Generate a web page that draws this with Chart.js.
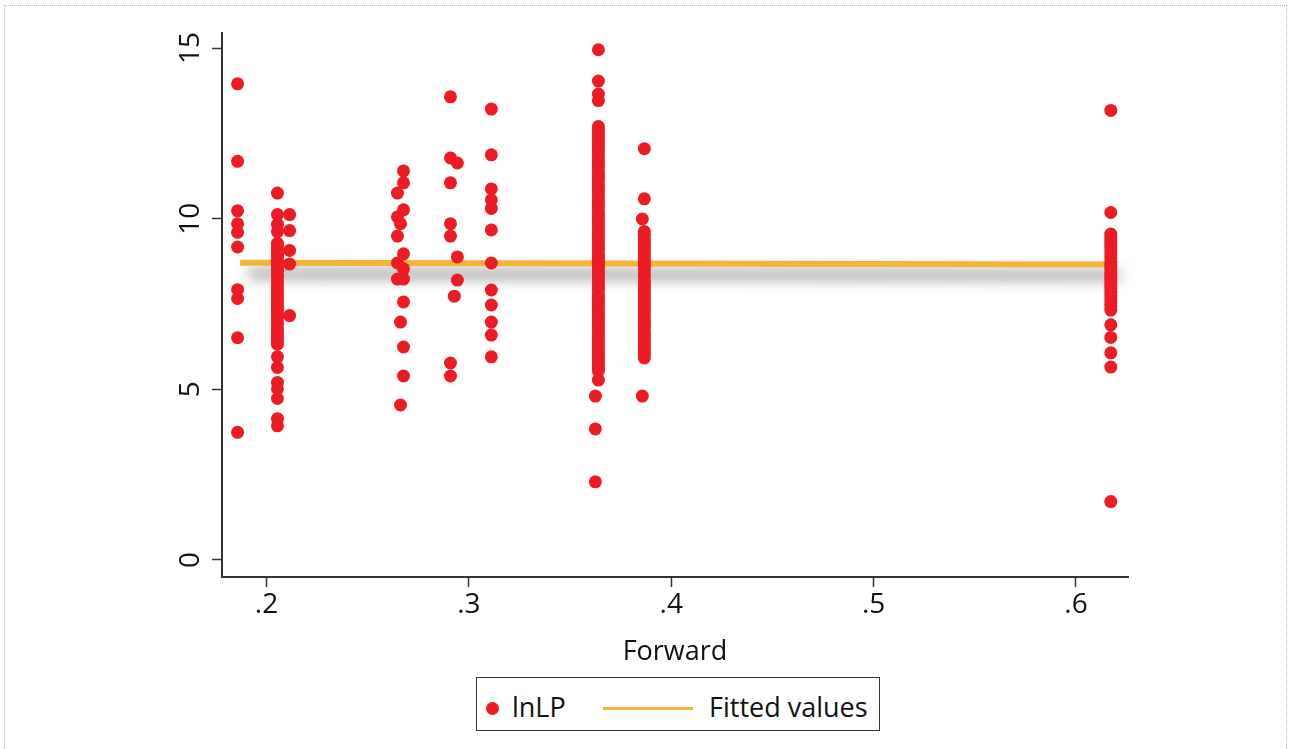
<html>
    <head>
        <title>lnLP vs Forward</title>
        <script src="https://cdn.jsdelivr.net/npm/chart.js@4.4.0/dist/chart.umd.min.js"></script>
        <style>
            body { margin: 0; background: #fff; overflow: hidden; font-family: 'Open Sans', sans-serif; }
            #frame { position: absolute; left: 4px; top: 5px; width: 1283px; height: 800px; border: 1px dotted #b5b5b5; box-sizing: border-box; }
            #chart-box { position: absolute; left: 0; top: 0; width: 1290px; height: 749px; }
            #legend { position: absolute; left: 476px; top: 677px; width: 404px; height: 54px; border: 1.5px solid #333; box-sizing: border-box; background: #fff; font-size: 27px; color: #111; }
            #legend span { position: absolute; }
            .dot { width: 13px; height: 13px; border-radius: 50%; background: #ED1C24; left: 9px; top: 24px; }
            .fit { width: 90px; height: 3px; background: #F2B53A; left: 126px; top: 29px; }
        </style>
    </head>

    <body>
        <div id="frame"></div>
        <div id="chart-box">
            <canvas id="scatter-chart" width="1290" height="749"></canvas>
        </div>

        <!-- Legend -->
        <div id="legend">
            <span class="dot"></span>
            <span style="left: 35px; top: 11px; line-height: 36px;">lnLP</span>
            <span class="fit"></span>
            <span style="left: 232px; top: 11px; line-height: 36px;">Fitted values</span>
        </div>

        <script>
            // Forward value of each column of points
            const forwardCols = [0.1857, 0.2054, 0.2114, 0.2647, 0.2662, 0.2677, 0.2909, 0.2928, 0.2943, 0.3111, 0.3625, 0.3640, 0.3857, 0.3867, 0.6172];

            // lnLP values in each column
            const lnlpA = [13.95, 11.68, 10.23, 9.85, 9.60, 9.17, 7.92, 7.66, 6.51, 3.74];
            const lnlpB = [10.75, 10.12, 9.83, 9.62, 9.28, 9.18, 9.09, 8.98, 8.89, 8.78, 8.69, 8.58, 8.49, 8.38, 8.29, 8.18, 8.09, 7.98, 7.89, 7.78, 7.69, 7.58, 7.49, 7.38, 7.29, 7.18, 7.09, 6.98, 6.89, 6.78, 6.69, 6.58, 6.49, 6.40, 6.32, 5.95, 5.64, 5.20, 5.01, 4.73, 4.14, 3.93];
            const lnlpC = [10.12, 9.65, 9.07, 8.67, 7.16];
            const lnlpD1 = [10.75, 10.05, 9.49, 8.70, 8.23];
            const lnlpD2 = [9.85, 6.97, 4.54];
            const lnlpD3 = [11.40, 11.05, 10.26, 8.97, 8.53, 8.23, 7.56, 6.24, 5.39];
            const lnlpE1 = [13.57, 11.78, 11.05, 9.85, 9.49, 5.77, 5.39];
            const lnlpE2 = [7.73];
            const lnlpE3 = [11.63, 8.88, 8.20];
            const lnlpF = [13.21, 11.87, 10.87, 10.55, 10.30, 9.67, 8.70, 7.91, 7.47, 6.97, 6.59, 5.95];
            const lnlpG1 = [4.80, 3.84, 2.29];
            const lnlpG2 = [14.95, 14.03, 13.65, 13.46, 12.70, 12.61, 12.50, 12.40, 12.31, 12.20, 12.11, 12.00, 11.90, 11.81, 11.70, 11.60, 11.51, 11.40, 11.30, 11.21, 11.10, 11.00, 10.91, 10.80, 10.70, 10.61, 10.50, 10.40, 10.31, 10.20, 10.10, 10.01, 9.90, 9.80, 9.71, 9.60, 9.50, 9.41, 9.30, 9.20, 9.11, 9.00, 8.90, 8.81, 8.70, 8.60, 8.51, 8.40, 8.30, 8.21, 8.10, 8.00, 7.91, 7.80, 7.70, 7.61, 7.50, 7.40, 7.31, 7.20, 7.10, 7.01, 6.90, 6.80, 6.71, 6.60, 6.50, 6.41, 6.30, 6.20, 6.11, 6.00, 5.90, 5.81, 5.70, 5.62, 5.54, 5.27];
            const lnlpH1 = [9.99, 4.80];
            const lnlpH2 = [12.05, 10.58, 9.62, 9.52, 9.41, 9.31, 9.22, 9.11, 9.01, 8.92, 8.81, 8.71, 8.62, 8.51, 8.41, 8.32, 8.21, 8.11, 8.02, 7.91, 7.81, 7.72, 7.61, 7.51, 7.42, 7.31, 7.21, 7.12, 7.01, 6.91, 6.82, 6.71, 6.61, 6.52, 6.41, 6.31, 6.22, 6.11, 6.02, 5.92];
            const lnlpI = [13.17, 10.18, 9.55, 9.45, 9.34, 9.24, 9.15, 9.04, 8.94, 8.85, 8.74, 8.64, 8.55, 8.44, 8.34, 8.25, 8.14, 8.04, 7.95, 7.84, 7.74, 7.65, 7.54, 7.44, 7.32, 6.89, 6.52, 6.07, 5.65, 1.71];

            const lnlpCols = [lnlpA, lnlpB, lnlpC, lnlpD1, lnlpD2, lnlpD3, lnlpE1, lnlpE2, lnlpE3, lnlpF, lnlpG1, lnlpG2, lnlpH1, lnlpH2, lnlpI];

            // fitted line end points
            const fitX = [0.187, 0.6172];
            const fitY = [8.71, 8.66];

            const xTicks = [0.2, 0.3, 0.4, 0.5, 0.6];
            const yTicks = [0, 5, 10, 15];

            const points = [];
            forwardCols.forEach((fx, i) => {
                lnlpCols[i].forEach(v => points.push({ x: fx, y: v }));
            });
            const fitted = fitX.map((fx, i) => ({ x: fx, y: fitY[i] }));

            // soft grey drop shadow under the fitted line
            const shadowPlugin = {
                id: 'lineShadow',
                beforeDatasetDraw(chart, args) {
                    if (args.index !== 1) return;
                    const ctx = chart.ctx;
                    ctx.save();
                    ctx.shadowColor = 'rgba(0,0,0,0.6)';
                    ctx.shadowBlur = 14;
                    ctx.shadowOffsetX = 9;
                    ctx.shadowOffsetY = 11;
                },
                afterDatasetDraw(chart, args) {
                    if (args.index !== 1) return;
                    chart.ctx.restore();
                }
            };

            const tickFont = { family: "'Open Sans', sans-serif", size: 28 };
            const titleFont = { family: "'Open Sans', sans-serif", size: 27 };

            new Chart(document.getElementById('scatter-chart'), {
                type: 'scatter',
                data: {
                    datasets: [{
                        label: 'lnLP',
                        data: points,
                        backgroundColor: '#ED1C24',
                        borderWidth: 0,
                        pointRadius: 6.5,
                        pointHoverRadius: 6.5,
                        order: 0
                    }, {
                        type: 'line',
                        label: 'Fitted values',
                        data: fitted,
                        borderColor: '#F2B53A',
                        borderWidth: 6,
                        borderCapStyle: 'butt',
                        pointRadius: 0,
                        fill: false,
                        clip: 25,
                        order: 1
                    }]
                },
                options: {
                    responsive: false,
                    animation: false,
                    layout: { padding: { left: 0, top: 33, right: 162, bottom: 72 } },
                    plugins: {
                        legend: { display: false },
                        tooltip: { enabled: false }
                    },
                    scales: {
                        x: {
                            type: 'linear',
                            min: 0.178,
                            max: 0.6257,
                            afterFit: s => { s.height = 100; },
                            afterBuildTicks: s => { s.ticks = xTicks.map(v => ({ value: v })); },
                            ticks: {
                                includeBounds: false,
                                padding: 1,
                                color: '#111',
                                font: tickFont,
                                maxRotation: 0,
                                callback: v => '.' + Math.round(v * 10)
                            },
                            grid: { drawOnChartArea: false, drawTicks: true, tickLength: 10, tickWidth: 1.5, tickColor: '#333' },
                            border: { display: true, color: '#333', width: 2 },
                            title: {
                                display: true,
                                text: 'Forward',
                                color: '#111',
                                font: titleFont,
                                padding: { top: 0, bottom: 8 }
                            }
                        },
                        y: {
                            min: -0.5,
                            max: 15.44,
                            afterFit: s => { s.width = 222; },
                            afterBuildTicks: s => { s.ticks = yTicks.map(v => ({ value: v })); },
                            ticks: {
                                includeBounds: false,
                                minRotation: 90,
                                crossAlign: 'center',
                                padding: 5,
                                color: '#111',
                                font: tickFont,
                                callback: v => String(v)
                            },
                            grid: { drawOnChartArea: false, drawTicks: true, tickLength: 10, tickWidth: 1.5, tickColor: '#333' },
                            border: { display: true, color: '#333', width: 2 }
                        }
                    }
                },
                plugins: [shadowPlugin]
            });
        </script>
    </body>
</html>
